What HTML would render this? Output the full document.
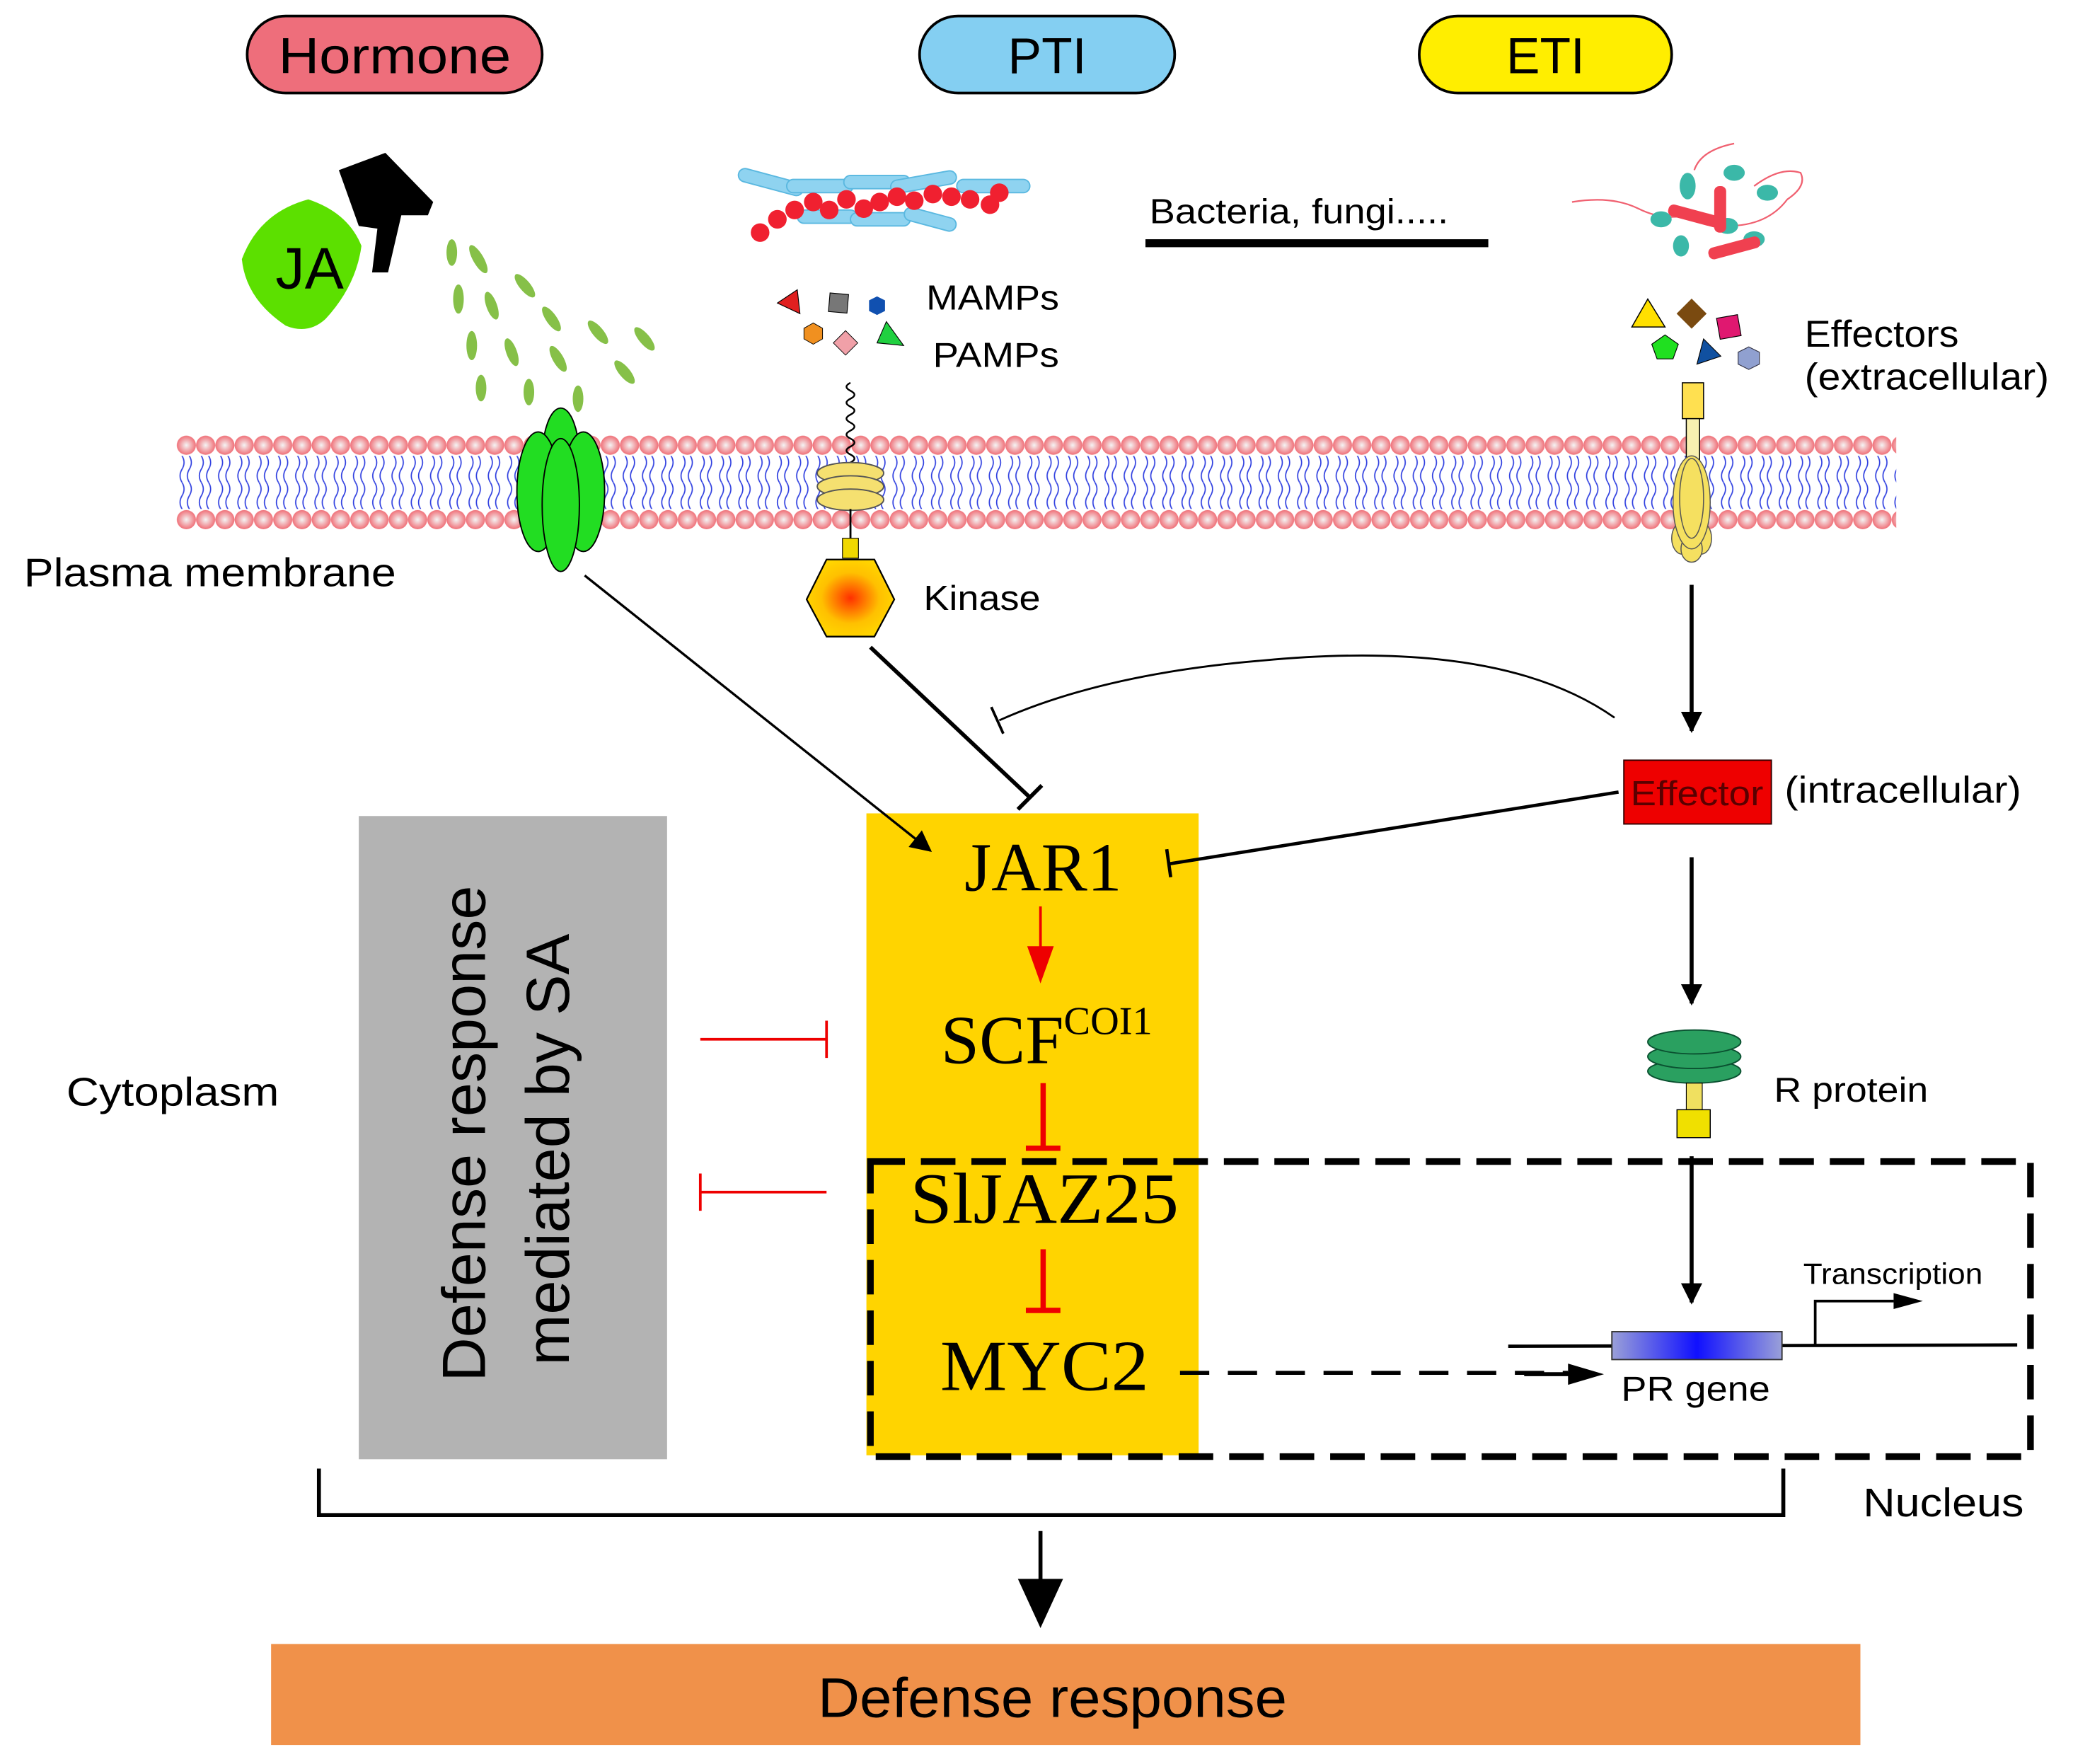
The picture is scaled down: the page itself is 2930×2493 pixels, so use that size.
<!DOCTYPE html>
<html><head><meta charset="utf-8"><style>
html,body{margin:0;padding:0;background:#fff}
svg{display:block}
text{font-family:"Liberation Sans",sans-serif}
.serif{font-family:"Liberation Serif",serif}
</style></head><body>
<svg width="2930" height="2493" viewBox="0 0 1560 1327.3" xmlns="http://www.w3.org/2000/svg">
<defs>
<radialGradient id="head" cx="50%" cy="50%" r="50%"><stop offset="0" stop-color="#f4f4f4"/><stop offset="1" stop-color="#f07078"/></radialGradient>
<radialGradient id="kin" cx="50%" cy="50%" r="55%"><stop offset="0" stop-color="#ff3000"/><stop offset="0.6" stop-color="#ffc000"/><stop offset="1" stop-color="#ffd800"/></radialGradient>
<linearGradient id="gene" x1="0" x2="1"><stop offset="0" stop-color="#9aa0d8"/><stop offset="0.5" stop-color="#1010ff"/><stop offset="1" stop-color="#9aa0d8"/></linearGradient>
<pattern id="heads1" x="133" y="327" width="14.5" height="16" patternUnits="userSpaceOnUse">
<circle cx="7.25" cy="8" r="7.2" fill="url(#head)"/>
</pattern>
<pattern id="heads2" x="133" y="383" width="14.5" height="16" patternUnits="userSpaceOnUse">
<circle cx="7.25" cy="8" r="7.2" fill="url(#head)"/>
</pattern>
<pattern id="tails" x="133" y="343" width="14.5" height="20" patternUnits="userSpaceOnUse">
<path d="M4 0 q3 5 0 10 q-3 5 0 10 M9.5 0 q3 5 0 10 q-3 5 0 10" fill="none" stroke="#3040e0" stroke-width="0.9"/>
</pattern>
<marker id="ah2" viewBox="0 0 10 10" refX="9" refY="5" markerWidth="24" markerHeight="16" orient="auto" markerUnits="userSpaceOnUse"><path d="M0 0L10 5L0 10z" fill="#000"/></marker>
</defs>

<!-- pills -->
<rect x="186" y="12" width="222" height="58" rx="29" fill="#ee6e7b" stroke="#000" stroke-width="2"/>
<text x="297" y="55" font-size="38" text-anchor="middle" textLength="175" lengthAdjust="spacingAndGlyphs">Hormone</text>
<rect x="692" y="12" width="192" height="58" rx="29" fill="#84cff2" stroke="#000" stroke-width="2"/>
<text x="788" y="55" font-size="38" text-anchor="middle">PTI</text>
<rect x="1068" y="12" width="190" height="58" rx="29" fill="#ffee00" stroke="#000" stroke-width="2"/>
<text x="1163" y="55" font-size="38" text-anchor="middle">ETI</text>

<!-- JA bottle -->
<path d="M232 150 Q195 160 182 195 Q185 225 215 245 Q232 252 245 240 Q268 215 272 185 Q262 160 232 150 Z" fill="#5ce000"/>
<path d="M255 128 L290 115 L326 152 L322 162 L302 162 L292 205 L280 205 L284 172 L270 170 Z" fill="#000"/>
<text x="233" y="217" font-size="44" text-anchor="middle">JA</text>
<g fill="#86c048">
<ellipse cx="340" cy="190" rx="4" ry="10"/><ellipse cx="360" cy="195" rx="4" ry="12" transform="rotate(-30 360 195)"/>
<ellipse cx="345" cy="225" rx="4" ry="11"/><ellipse cx="370" cy="230" rx="4" ry="11" transform="rotate(-20 370 230)"/>
<ellipse cx="395" cy="215" rx="4" ry="11" transform="rotate(-40 395 215)"/><ellipse cx="415" cy="240" rx="4" ry="11" transform="rotate(-35 415 240)"/>
<ellipse cx="355" cy="260" rx="4" ry="11"/><ellipse cx="385" cy="265" rx="4" ry="11" transform="rotate(-20 385 265)"/>
<ellipse cx="420" cy="270" rx="4" ry="11" transform="rotate(-30 420 270)"/><ellipse cx="450" cy="250" rx="4" ry="11" transform="rotate(-40 450 250)"/>
<ellipse cx="362" cy="292" rx="4" ry="10"/><ellipse cx="398" cy="295" rx="4" ry="10"/><ellipse cx="435" cy="300" rx="4" ry="10"/><ellipse cx="470" cy="280" rx="4" ry="11" transform="rotate(-40 470 280)"/><ellipse cx="485" cy="255" rx="4" ry="11" transform="rotate(-40 485 255)"/>
</g>

<!-- PTI microbes -->
<g fill="#8fd3f0" stroke="#5ab8e0" stroke-width="1">
<rect x="555" y="132" width="50" height="10" rx="5" transform="rotate(15 580 137)"/><rect x="592" y="135" width="50" height="10" rx="5"/><rect x="635" y="132" width="50" height="10" rx="5"/><rect x="670" y="132" width="50" height="10" rx="5" transform="rotate(-10 695 137)"/><rect x="720" y="135" width="55" height="10" rx="5"/>
<rect x="600" y="158" width="45" height="10" rx="5"/><rect x="640" y="160" width="45" height="10" rx="5"/><rect x="680" y="160" width="40" height="10" rx="5" transform="rotate(15 700 165)"/>
</g>
<g fill="#f02030">
<circle cx="572" cy="175" r="7"/><circle cx="585" cy="165" r="7"/><circle cx="598" cy="158" r="7"/><circle cx="612" cy="152" r="7"/><circle cx="624" cy="158" r="7"/><circle cx="637" cy="150" r="7"/><circle cx="650" cy="157" r="7"/><circle cx="662" cy="152" r="7"/><circle cx="675" cy="148" r="7"/><circle cx="688" cy="151" r="7"/><circle cx="702" cy="146" r="7"/><circle cx="716" cy="148" r="7"/><circle cx="730" cy="150" r="7"/><circle cx="745" cy="154" r="7"/><circle cx="752" cy="145" r="7"/>
</g>
<text x="865" y="168" font-size="26" textLength="225" lengthAdjust="spacingAndGlyphs">Bacteria, fungi.....</text>
<rect x="862" y="180" width="258" height="6" fill="#000"/>

<!-- ETI microbes -->
<g stroke="#f06070" stroke-width="1.2" fill="none"><path d="M1183 152 q30 -5 50 5 q20 10 40 4"/><path d="M1275 128 q5 -15 30 -20"/><path d="M1320 140 q20 -15 35 -10 q5 10 -10 20 q-15 20 -45 20"/></g>
<g fill="#3bb8a8"><ellipse cx="1270" cy="140" rx="6" ry="10"/><ellipse cx="1305" cy="130" rx="8" ry="6"/><ellipse cx="1330" cy="145" rx="8" ry="6"/><ellipse cx="1250" cy="165" rx="8" ry="6"/><ellipse cx="1300" cy="170" rx="8" ry="6"/><ellipse cx="1265" cy="185" rx="6" ry="8"/><ellipse cx="1320" cy="180" rx="8" ry="6"/></g>
<g fill="#f04050"><rect x="1255" y="158" width="40" height="9" rx="4" transform="rotate(15 1275 162)"/><rect x="1290" y="140" width="9" height="35" rx="4"/><rect x="1285" y="182" width="40" height="9" rx="4" transform="rotate(-15 1305 186)"/></g>

<!-- MAMPs shapes -->
<path d="M585 228 L600 218 L602 236 Z" fill="#e02020" stroke="#000" stroke-width="0.6"/>
<rect x="624" y="221" width="14" height="14" fill="#777" stroke="#000" stroke-width="0.6" transform="rotate(5 631 228)"/>
<polygon points="660,223 666,226 666,234 660,237 654,234 654,226" fill="#1050b0"/>
<polygon points="612,243 619,247 619,255 612,259 605,255 605,247" fill="#f09020" stroke="#000" stroke-width="0.5"/>
<rect x="630" y="252" width="13" height="13" fill="#f0a0a8" stroke="#000" stroke-width="0.5" transform="rotate(45 637 258)"/>
<path d="M667 242 L660 258 L680 260 Z" fill="#20d040" stroke="#000" stroke-width="0.6"/>
<text x="697" y="233" font-size="26" textLength="100" lengthAdjust="spacingAndGlyphs">MAMPs</text>
<text x="702" y="276" font-size="26" textLength="95" lengthAdjust="spacingAndGlyphs">PAMPs</text>

<!-- Effector shapes -->
<path d="M1240 225 L1228 246 L1253 246 Z" fill="#ffe000" stroke="#000" stroke-width="0.8"/>
<rect x="1265" y="228" width="16" height="16" fill="#7a4a10" transform="rotate(45 1273 236)"/>
<rect x="1293" y="238" width="16" height="16" fill="#e01870" stroke="#000" stroke-width="0.6" transform="rotate(-10 1301 246)"/>
<polygon points="1253,252 1263,259 1259,270 1247,270 1243,259" fill="#20e020" stroke="#000" stroke-width="0.6"/>
<path d="M1282 255 L1295 268 L1277 274 Z" fill="#1050a0" stroke="#000" stroke-width="0.6"/>
<polygon points="1316,261 1324,265 1324,274 1316,278 1308,274 1308,265" fill="#90a0d0" stroke="#334" stroke-width="0.6"/>
<text x="1358" y="261" font-size="28" textLength="116" lengthAdjust="spacingAndGlyphs">Effectors</text>
<text x="1358" y="293" font-size="28" textLength="184" lengthAdjust="spacingAndGlyphs">(extracellular)</text>

<!-- membrane -->
<rect x="133" y="327" width="1294" height="16" fill="url(#heads1)"/>
<rect x="133" y="383" width="1294" height="16" fill="url(#heads2)"/>
<rect x="133" y="343" width="1294" height="40" fill="url(#tails)"/>

<!-- green channel -->
<g fill="#22dd22" stroke="#000" stroke-width="1">
<ellipse cx="422" cy="345" rx="14" ry="38"/><ellipse cx="405" cy="370" rx="16" ry="45"/><ellipse cx="439" cy="370" rx="16" ry="45"/><ellipse cx="422" cy="380" rx="14" ry="50"/>
</g>
<text x="18" y="441" font-size="30" textLength="280" lengthAdjust="spacingAndGlyphs">Plasma membrane</text>

<!-- PTI receptor -->
<path d="M640 288 q-6 3 0 6 q6 3 0 6 q-6 3 0 6 q6 3 0 6 q-6 3 0 6 q6 3 0 6 q-6 3 0 6 q6 3 0 6 q-6 3 0 6 q6 3 0 6" fill="none" stroke="#000" stroke-width="1.3"/>
<g fill="#f5e070" stroke="#555" stroke-width="1"><ellipse cx="640" cy="356" rx="25" ry="8"/><ellipse cx="640" cy="366" rx="25" ry="8"/><ellipse cx="640" cy="376" rx="25" ry="8"/></g>
<line x1="640" y1="383" x2="640" y2="405" stroke="#000" stroke-width="1.5"/>
<rect x="634" y="405" width="12" height="15" fill="#f0d800" stroke="#000" stroke-width="0.6"/>
<polygon points="622,421 658,421 673,451 658,479 622,479 607,451" fill="url(#kin)" stroke="#000" stroke-width="1.2"/>
<text x="695" y="459" font-size="26" textLength="88" lengthAdjust="spacingAndGlyphs">Kinase</text>

<!-- ETI receptor -->
<rect x="1266" y="288" width="16" height="27" fill="#ffe050" stroke="#000" stroke-width="0.8"/>
<rect x="1269" y="315" width="10" height="35" fill="#f8f0b0" stroke="#000" stroke-width="0.8"/>
<g fill="#f5e060" stroke="#555" stroke-width="0.8"><ellipse cx="1266" cy="405" rx="8" ry="12"/><ellipse cx="1280" cy="405" rx="8" ry="12"/><ellipse cx="1273" cy="413" rx="8" ry="10"/><ellipse cx="1273" cy="378" rx="14" ry="35"/><ellipse cx="1273" cy="375" rx="9" ry="30"/></g>

<!-- yellow & gray boxes -->
<rect x="652" y="612" width="250" height="483" fill="#ffd400"/>
<rect x="270" y="614" width="232" height="484" fill="#b3b3b3"/>
<text transform="translate(365 853) rotate(-90)" font-size="46" text-anchor="middle">Defense response</text>
<text transform="translate(428 865) rotate(-90)" font-size="46" text-anchor="middle">mediated by SA</text>
<text x="50" y="832" font-size="30" textLength="160" lengthAdjust="spacingAndGlyphs">Cytoplasm</text>

<!-- connectors -->
<line x1="440" y1="433" x2="700" y2="640" stroke="#000" stroke-width="1.8" marker-end="url(#ah2)"/>
<line x1="655" y1="487" x2="775" y2="600" stroke="#000" stroke-width="3"/>
<line x1="766" y1="609" x2="784" y2="591" stroke="#000" stroke-width="3"/>
<path d="M1215 540 Q1130 480 950 497 Q830 507 752 542" fill="none" stroke="#000" stroke-width="1.5"/>
<line x1="746" y1="532" x2="755" y2="552" stroke="#000" stroke-width="2"/>
<line x1="1218" y1="596" x2="880" y2="650" stroke="#000" stroke-width="2.5"/>
<line x1="878" y1="639" x2="881" y2="660" stroke="#000" stroke-width="2.5"/>
<line x1="1273" y1="440" x2="1273" y2="550" stroke="#000" stroke-width="3" marker-end="url(#ah2)"/>
<line x1="1273" y1="645" x2="1273" y2="755" stroke="#000" stroke-width="3" marker-end="url(#ah2)"/>
<line x1="1273" y1="870" x2="1273" y2="980" stroke="#000" stroke-width="3" marker-end="url(#ah2)"/>

<rect x="1222" y="572" width="111" height="48" fill="#ee0000" stroke="#300" stroke-width="1"/>
<text x="1277" y="606" font-size="26" text-anchor="middle" fill="#5a0000" textLength="100" lengthAdjust="spacingAndGlyphs">Effector</text>
<text x="1343" y="604" font-size="28" textLength="178" lengthAdjust="spacingAndGlyphs">(intracellular)</text>

<!-- R protein -->
<g fill="#2aa060" stroke="#0a5030" stroke-width="1"><ellipse cx="1275" cy="806" rx="35" ry="9"/><ellipse cx="1275" cy="795" rx="35" ry="9"/><ellipse cx="1275" cy="784" rx="35" ry="9"/></g>
<rect x="1269" y="815" width="12" height="20" fill="#f0e060" stroke="#000" stroke-width="0.6"/>
<rect x="1262" y="835" width="25" height="21" fill="#f0e000" stroke="#000" stroke-width="0.8"/>
<text x="1335" y="829" font-size="26" textLength="116" lengthAdjust="spacingAndGlyphs">R protein</text>

<text class="serif" x="785" y="670" font-size="52" text-anchor="middle">JAR1</text>
<text class="serif" x="708" y="800" font-size="52">SCF<tspan font-size="30" dy="-22">COI1</tspan></text>
<text class="serif" x="786" y="920" font-size="54" text-anchor="middle" textLength="202" lengthAdjust="spacingAndGlyphs">SlJAZ25</text>
<text class="serif" x="786" y="1046" font-size="54" text-anchor="middle" textLength="157" lengthAdjust="spacingAndGlyphs">MYC2</text>

<line x1="783" y1="682" x2="783" y2="720" stroke="#e00" stroke-width="2"/>
<path d="M773 712 L793 712 L783 740 Z" fill="#e00"/>
<line x1="785" y1="815" x2="785" y2="863" stroke="#e00" stroke-width="4"/>
<line x1="772" y1="864" x2="798" y2="864" stroke="#e00" stroke-width="4"/>
<line x1="785" y1="940" x2="785" y2="985" stroke="#e00" stroke-width="4"/>
<line x1="772" y1="986" x2="798" y2="986" stroke="#e00" stroke-width="4"/>
<line x1="527" y1="782" x2="622" y2="782" stroke="#e00" stroke-width="2"/>
<line x1="622" y1="768" x2="622" y2="796" stroke="#e00" stroke-width="2"/>
<line x1="527" y1="897" x2="622" y2="897" stroke="#e00" stroke-width="2"/>
<line x1="527" y1="883" x2="527" y2="911" stroke="#e00" stroke-width="2"/>

<!-- nucleus -->
<rect x="655" y="874" width="873" height="222" fill="none" stroke="#000" stroke-width="5" stroke-dasharray="26 12"/>
<line x1="888" y1="1033" x2="1180" y2="1033" stroke="#000" stroke-width="3" stroke-dasharray="22 14"/>
<path d="M1180 1026 L1207 1034 L1180 1042 Z" fill="#000"/>
<line x1="1147" y1="1034" x2="1185" y2="1034" stroke="#000" stroke-width="3"/>
<line x1="1135" y1="1013" x2="1518" y2="1012" stroke="#000" stroke-width="2.5"/>
<rect x="1213" y="1002" width="128" height="21" fill="url(#gene)" stroke="#333" stroke-width="1"/>
<path d="M1366 1012 L1366 979 L1425 979" fill="none" stroke="#000" stroke-width="2"/>
<path d="M1425 973 L1447 979 L1425 985 Z" fill="#000"/>
<text x="1357" y="966" font-size="22" textLength="135" lengthAdjust="spacingAndGlyphs">Transcription</text>
<text x="1220" y="1054" font-size="26" textLength="112" lengthAdjust="spacingAndGlyphs">PR gene</text>

<!-- bracket -->
<path d="M240 1105 L240 1140 L1342 1140 L1342 1105" fill="none" stroke="#000" stroke-width="3"/>
<line x1="783" y1="1152" x2="783" y2="1195" stroke="#000" stroke-width="3"/>
<path d="M766 1188 L800 1188 L783 1225 Z" fill="#000"/>
<text x="1402" y="1141" font-size="30" textLength="121" lengthAdjust="spacingAndGlyphs">Nucleus</text>

<rect x="204" y="1237" width="1196" height="76" fill="#f0914a"/>
<text x="792" y="1292" font-size="42" text-anchor="middle" textLength="353" lengthAdjust="spacingAndGlyphs">Defense response</text>
</svg>
</body></html>
